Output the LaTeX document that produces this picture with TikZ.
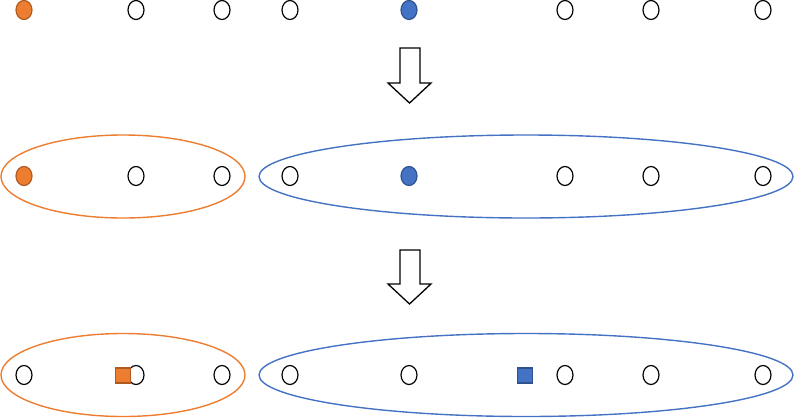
\documentclass[tikz,border=0pt]{standalone}
\usetikzlibrary{shapes.geometric}
\definecolor{orangeA}{HTML}{ED7D31}
\definecolor{orangeB}{HTML}{AE5A21}
\definecolor{bleuA}{HTML}{4472C4}
\definecolor{bleuB}{HTML}{2F528F}
\tikzset{
	point/.style={ellipse, draw=black, line width=1.2pt, minimum width=16, minimum height=19, inner sep=0pt},
	pointO/.style={point, draw=orangeB, fill=orangeA},
	pointB/.style={point, draw=bleuB, fill=bleuA},
	groupe/.style={ellipse, line width=1.4pt, inner sep=0pt, minimum height=83},
	carre/.style={rectangle, line width=1.2pt, minimum size=15, inner sep=0pt},
	fleche/.style={draw=black, line width=1.3pt, fill=white}
}
\begin{document}
\begin{tikzpicture}[x=1pt, y=-1pt]
		\useasboundingbox (0,0) rectangle (794,418);
		% Création des nœuds : première ligne
		\node[pointO] (a1) at (24,10) {};
		\node[point] (a2) at (136,10) {};
		\node[point] (a3) at (222,10) {};
		\node[point] (a4) at (290,10) {};
		\node[pointB] (a5) at (409,10) {};
		\node[point] (a6) at (565,10) {};
		\node[point] (a7) at (651,10) {};
		\node[point] (a8) at (763,10) {};
		
		% Deuxième ligne avec les groupes
		\node[groupe, draw=orangeA, minimum width=244] (G1) at (123,176.5) {};
		\node[groupe, draw=bleuA, minimum width=534] (G2) at (526,176.5) {};
		\node[pointO] (b1) at (24,176) {};
		\node[point] (b2) at (136,176) {};
		\node[point] (b3) at (222,176) {};
		\node[point] (b4) at (290,176) {};
		\node[pointB] (b5) at (409,176) {};
		\node[point] (b6) at (565,176) {};
		\node[point] (b7) at (651,176) {};
		\node[point] (b8) at (763,176) {};
		
		% Troisième ligne avec les centres
		\node[groupe, draw=orangeA, minimum width=244] (H1) at (123,375) {};
		\node[groupe, draw=bleuA, minimum width=534] (H2) at (526,375) {};
		\node[point] (c1) at (24,375) {};
		\node[point] (c2) at (136,375) {};
		\node[point] (c3) at (222,375) {};
		\node[point] (c4) at (290,375) {};
		\node[point] (c5) at (409,375) {};
		\node[point] (c6) at (565,375) {};
		\node[point] (c7) at (651,375) {};
		\node[point] (c8) at (763,375) {};
		\node[carre, draw=orangeB, fill=orangeA] (K1) at (123,375.5) {};
		\node[carre, draw=bleuB, fill=bleuA] (K2) at (525,375.5) {};
		
		% Grosses flèches entre les lignes
		\draw[fleche] (400,48) -- (420,48) -- (420,83) -- (431,83) -- (409.5,103) -- (388,83) -- (400,83) -- cycle;
		\draw[fleche] (400,250) -- (420,250) -- (420,284) -- (431,284) -- (409.5,304) -- (388,284) -- (400,284) -- cycle;
	\end{tikzpicture}
\end{document}
